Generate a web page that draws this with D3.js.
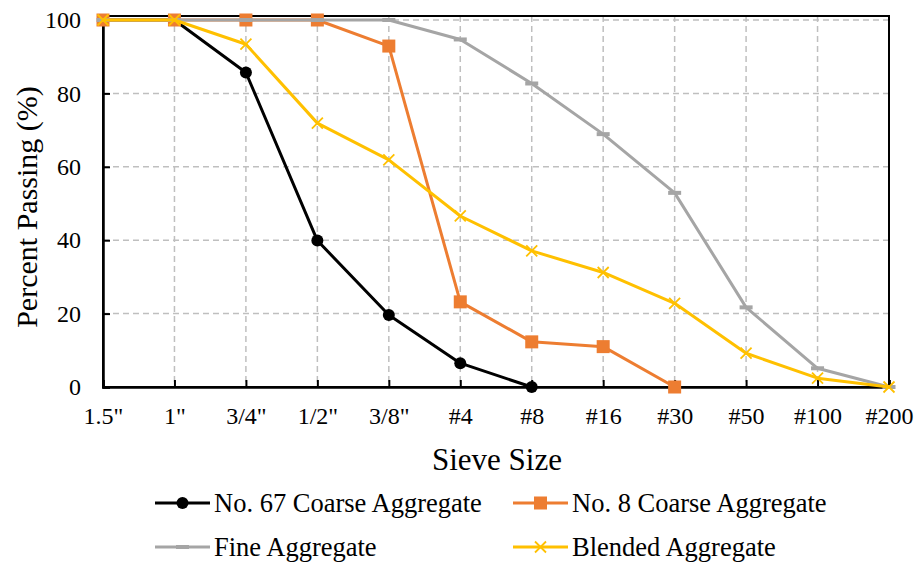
<!DOCTYPE html>
<html><head><meta charset="utf-8">
<script src="https://cdn.jsdelivr.net/npm/d3@7"></script>
<style>body{margin:0;background:#fff}svg{display:block}</style>
</head><body>
<script>
const categories = ['1.5"','1"','3/4"','1/2"','3/8"','#4','#8','#16','#30','#50','#100','#200'];
const no67 = [100,100,85.7,39.9,19.6,6.5,0,null,null,null,null,null];
const no8 = [100,100,100,100,92.9,23.2,12.3,11.0,0,null,null,null];
const fine = [100,100,100,100,100,94.7,82.7,68.9,52.9,21.7,5.1,0];
const blended = [100,100,93.4,71.9,61.9,46.6,37.1,31.2,22.8,9.2,2.4,0];
const yTicks = [0,20,40,60,80,100];
const seriesNames = ["No. 67 Coarse Aggregate","No. 8 Coarse Aggregate","Fine Aggregate","Blended Aggregate"];

const W=917,H=563;
const svg=d3.select("body").append("svg").attr("width",W).attr("height",H);
const x=d3.scalePoint().domain(categories).range([103,889]);
const y=d3.scaleLinear().domain([0,100]).range([387,20]);
const font="'Liberation Serif','Times New Roman',serif";

// gridlines
const g=svg.append("g");
g.selectAll(".hg").data(yTicks.filter(d=>d>0)).join("line")
 .attr("x1",103).attr("x2",889).attr("y1",d=>y(d)).attr("y2",d=>y(d))
 .attr("stroke","#BFBFBF").attr("stroke-width",1.5).attr("stroke-dasharray","6,4");
g.selectAll(".vg").data(categories.slice(1,-1)).join("line")
 .attr("x1",d=>x(d)).attr("x2",d=>x(d)).attr("y1",16).attr("y2",387)
 .attr("stroke","#BFBFBF").attr("stroke-width",1.5).attr("stroke-dasharray","6,4");

// frame
svg.append("rect").attr("x",103).attr("y",16).attr("width",786).attr("height",371)
 .attr("fill","none").attr("stroke","#000").attr("stroke-width",2);

// axes
const xAxis=svg.append("g").attr("transform","translate(0,387)")
 .call(d3.axisBottom(x).tickSize(-7).tickPadding(20));
xAxis.select(".domain").attr("stroke","#000").attr("stroke-width",2.5);
xAxis.selectAll(".tick line").attr("stroke","#000").attr("stroke-width",2);
xAxis.selectAll("text").attr("font-family",font).attr("font-size",24).attr("fill","#000");

const yAxis=svg.append("g").attr("transform","translate(103,0)")
 .call(d3.axisLeft(y).tickValues(yTicks).tickSize(-7).tickPadding(22));
yAxis.select(".domain").attr("stroke","#000").attr("stroke-width",2.5);
yAxis.selectAll(".tick line").attr("stroke","#000").attr("stroke-width",2);
yAxis.selectAll("text").attr("font-family",font).attr("font-size",24).attr("fill","#000");

svg.append("text").attr("x",497).attr("y",470).attr("text-anchor","middle")
 .attr("font-family",font).attr("font-size",31).text("Sieve Size");
svg.append("text").attr("transform","translate(37,207) rotate(-90)").attr("text-anchor","middle")
 .attr("font-family",font).attr("font-size",30).text("Percent Passing (%)");

const colors=["#000000","#ED7D31","#A5A5A5","#FFC000"];
const data=[no67,no8,fine,blended];
const line=d3.line().defined(d=>d.v!==null).x(d=>x(d.c)).y(d=>y(d.v));

function marker(sel,i,cx,cy){
  if(i===0) sel.append("circle").attr("cx",cx).attr("cy",cy).attr("r",6).attr("fill",colors[0]);
  else if(i===1) sel.append("rect").attr("x",cx-6.5).attr("y",cy-6.5).attr("width",13).attr("height",13).attr("fill",colors[1]);
  else if(i===2) sel.append("rect").attr("x",cx-6.5).attr("y",cy-2).attr("width",13).attr("height",4).attr("fill",colors[2]);
  else { const s=5.5; sel.append("path").attr("d",`M${cx-s},${cy-s}L${cx+s},${cy+s}M${cx-s},${cy+s}L${cx+s},${cy-s}`)
    .attr("stroke",colors[3]).attr("stroke-width",1.8).attr("fill","none"); }
}

data.forEach((arr,i)=>{
  const pts=arr.map((v,j)=>({c:categories[j],v}));
  const sg=svg.append("g");
  sg.append("path").attr("d",line(pts)).attr("fill","none").attr("stroke",colors[i])
    .attr("stroke-width",3).attr("stroke-linejoin","round");
  pts.filter(p=>p.v!==null).forEach(p=>marker(sg,i,x(p.c),y(p.v)));
});

// legend
const leg=[{x:155,y:503},{x:513,y:503},{x:155,y:547},{x:513,y:547}];
seriesNames.forEach((n,i)=>{
  const L=leg[i], lg=svg.append("g");
  lg.append("line").attr("x1",L.x).attr("x2",L.x+55).attr("y1",L.y).attr("y2",L.y)
    .attr("stroke",colors[i]).attr("stroke-width",3);
  marker(lg,i,L.x+27.5,L.y);
  lg.append("text").attr("x",L.x+59).attr("y",L.y+9).attr("font-family",font).attr("font-size",26.5).text(n);
});
</script>
</body></html>
